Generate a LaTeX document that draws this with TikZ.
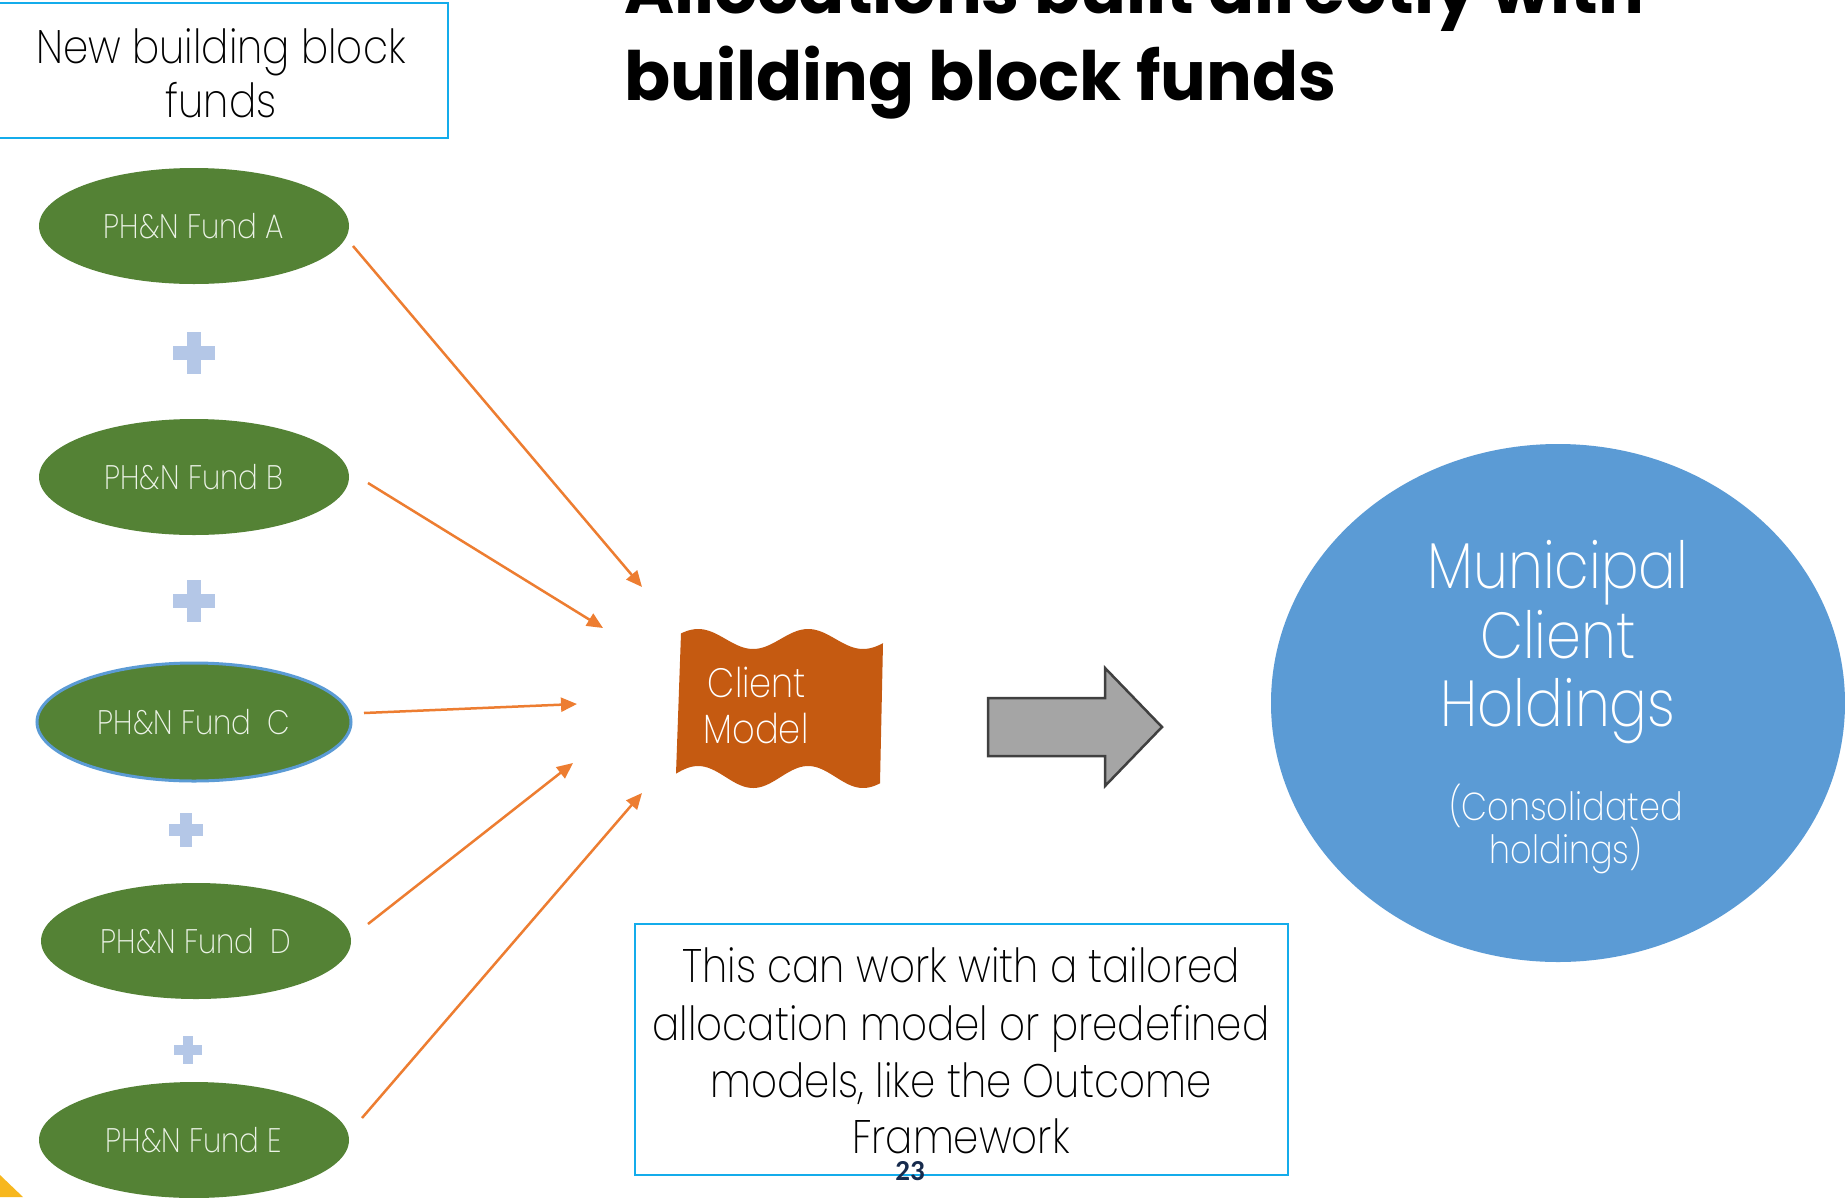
\documentclass[tikz,border=0pt]{standalone}
\usepackage{fontspec}
\usetikzlibrary{shapes.geometric,arrows.meta}
\IfFontExistsTF{Poppins ExtraLight}{\newfontfamily\lightf{Poppins ExtraLight}[FakeStretch=0.86]}{%
 \IfFontExistsTF{Poppins Light}{\newfontfamily\lightf{Poppins Light}[FakeStretch=0.86]}{%
  \IfFontExistsTF{Fira Sans Light}{\newfontfamily\lightf{Fira Sans Light}[FakeStretch=0.97]}{%
   \newfontfamily\lightf{Poppins}[FakeStretch=0.86]}}}
\newfontfamily\titlef{Poppins}
\newfontfamily\numf{Carlito}
\definecolor{fundgreen}{HTML}{548235}
\definecolor{fundtext}{RGB}{236,243,231}
\definecolor{ringblue}{HTML}{5B9BD5}
\definecolor{bigblue}{HTML}{5B9BD5}
\definecolor{boxcyan}{RGB}{20,172,235}
\definecolor{flowor}{HTML}{ED7D31}
\definecolor{modelor}{HTML}{C55A11}
\definecolor{plusblue}{HTML}{B4C7E7}
\definecolor{arrgray}{HTML}{A5A5A5}
\definecolor{arrdark}{HTML}{404040}
\definecolor{cornery}{RGB}{247,183,30}
\definecolor{numblue}{RGB}{23,43,77}
\newcommand\pluscross[3]{%
  \fill[plusblue] ({#1-#3/2},{#2-0.175*#3}) rectangle ({#1+#3/2},{#2+0.175*#3});
  \fill[plusblue] ({#1-0.175*#3},{#2-#3/2}) rectangle ({#1+0.175*#3},{#2+#3/2});}
\begin{document}
\begin{tikzpicture}[x=1pt,y=-1pt,
  fund/.style={ellipse, fill=fundgreen, minimum width=310pt, minimum height=116pt,
    inner sep=0pt, text=fundtext, font=\lightf\fontsize{34}{40}\selectfont},
  flow/.style={draw=flowor, line width=2.5pt, -{Triangle[length=16pt,width=14pt]}},
  boxline/.style={draw=boxcyan, line width=2pt, inner sep=0pt},
  bodytext/.style={anchor=base, font=\lightf\fontsize{47}{56}\selectfont, text=black, inner sep=0pt},
  whitetext/.style={anchor=base, text=white, inner sep=0pt},
  titletext/.style={anchor=base west, inner sep=0pt, font=\titlef\bfseries\fontsize{68}{72}\selectfont}]
\useasboundingbox (0,0) rectangle (1845,1197);
\fill[white] (0,0) rectangle (1845,1197);
\clip (0,0) rectangle (1845,1197);

% title
\node[titletext] (t1) at (624,13) {Allocations built directly with};
\node[titletext] (t2) at (624,100) {building block funds};

% top-left box
\node[boxline, minimum width=450pt, minimum height=135pt] (newbox) at (223,70.5) {};
\node[bodytext] (nb1) at (221,63) {New building block};
\node[bodytext] (nb2) at (221,117) {funds};

% fund ellipses
\node[fund] (fa) at (194,226) {PH\&N Fund A};
\node[fund] (fb) at (194,477) {PH\&N Fund B};
\node[fund, draw=ringblue, line width=3pt, minimum width=314pt, minimum height=118pt] (fc) at (194,722) {PH\&N Fund~~C};
\node[fund] (fd) at (196,941) {PH\&N Fund~~D};
\node[fund] (fe) at (194,1140) {PH\&N Fund E};

% plus signs
\pluscross{194}{353}{42}
\pluscross{194}{601}{42}
\pluscross{186}{830}{34}
\pluscross{188}{1050}{28}

% orange arrows
\coordinate (sa) at (353,246); \coordinate (ta) at (642,587);
\coordinate (sb) at (368,483); \coordinate (tb) at (603,628);
\coordinate (sc) at (364,713); \coordinate (tc) at (577,704);
\coordinate (sd) at (368,924); \coordinate (td) at (573,763);
\coordinate (se) at (362,1118); \coordinate (te) at (642,793);
\draw[flow] (sa) -- (ta);
\draw[flow] (sb) -- (tb);
\draw[flow] (sc) -- (tc);
\draw[flow] (sd) -- (td);
\draw[flow] (se) -- (te);

% client model wave
\fill[modelor] plot[domain=681:883, samples=80] (\x, {639 - 10*sin(3.2727*(\x-681)+34)})
  -- plot[domain=880:676, samples=80] (\x, {777 - 11*sin(3.2727*(\x-681)+34)}) -- cycle;
\node[whitetext, font=\lightf\fontsize{41}{46}\selectfont] (cm1) at (757,697) {Client};
\node[whitetext, font=\lightf\fontsize{41}{46}\selectfont] (cm2) at (756,743) {Model};

% gray block arrow
\draw[fill=arrgray, draw=arrdark, line width=2.5pt, line join=miter]
  (988,698) -- (1105,698) -- (1105,668) -- (1162,727) -- (1105,786) -- (1105,756) -- (988,756) -- cycle;

% holdings ellipse
\node[ellipse, fill=bigblue, minimum width=574pt, minimum height=518pt, inner sep=0pt] (hold) at (1558,703) {};
\node[whitetext, font=\lightf\fontsize{65}{68}\selectfont] (h1) at (1558,588) {Municipal};
\node[whitetext, font=\lightf\fontsize{65}{68}\selectfont] (h2) at (1558,658) {Client};
\node[whitetext, font=\lightf\fontsize{65}{68}\selectfont] (h3) at (1558,726) {Holdings};
\node[whitetext, font=\lightf\fontsize{39}{44}\selectfont] (h4) at (1566,820) {(Consolidated};
\node[whitetext, font=\lightf\fontsize{39}{44}\selectfont] (h5) at (1566,863) {holdings)};

% note box
\node[boxline, minimum width=653pt, minimum height=251pt] (note) at (961.5,1049.5) {};
\node[bodytext] (n1) at (961,982) {This can work with a tailored};
\node[bodytext] (n2) at (961,1040) {allocation model or predefined};
\node[bodytext] (n3) at (961,1097) {models, like the Outcome};
\node[bodytext] (n4) at (961,1153) {Framework};

% page number
\node[anchor=base, inner sep=0pt, text=numblue, font=\numf\bfseries\fontsize{29}{32}\selectfont] (pg) at (910,1180) {23};

% corner
\fill[cornery] (0,1175) -- (23,1197) -- (0,1197) -- cycle;
\end{tikzpicture}
\end{document}
